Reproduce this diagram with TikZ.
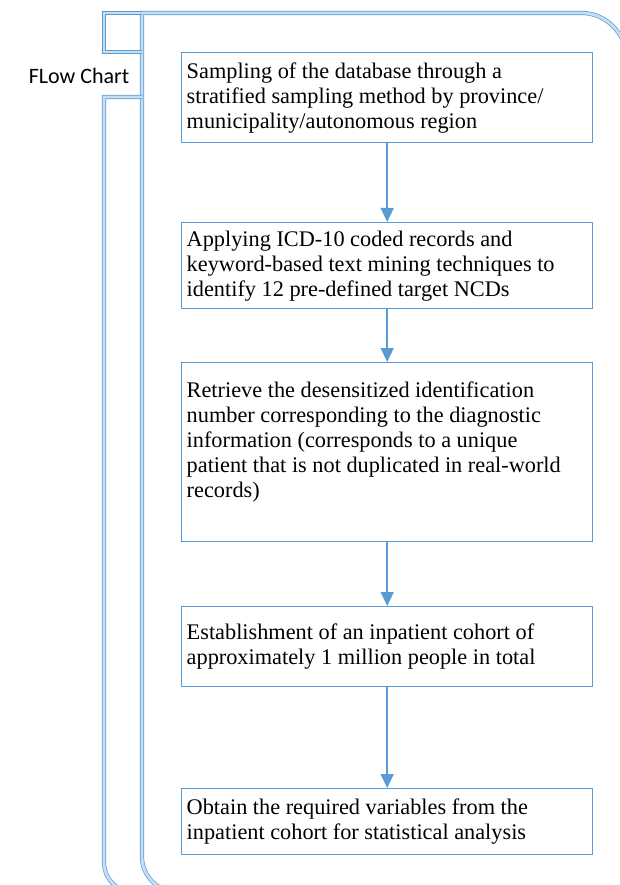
\documentclass[tikz,border=0pt]{standalone}
\usepackage{fontspec}
\setmainfont{Liberation Serif}
\newfontfamily\labelfont{Carlito}
\usepackage{xcolor}
\usetikzlibrary{positioning,arrows.meta}
\definecolor{edgeblue}{RGB}{91,155,213}
\definecolor{paleblue}{RGB}{197,222,244}

\tikzset{
  stepbox/.style={draw=edgeblue,line width=1.4pt,fill=white,anchor=north west,
    text width=401pt,inner xsep=5pt,align=flush left,
    font=\fontsize{22.3}{25}\selectfont},
  flow/.style={draw=edgeblue,line width=1.6pt,-{Triangle[width=13pt,length=14pt]}},
  band/.style={draw=edgeblue,line width=0.7pt,double=paleblue,double distance=2.8pt}
}

\begin{document}
\begin{tikzpicture}[x=1pt,y=-1pt]
        \useasboundingbox (0,0) rectangle (619,885);
        % bracket bands
        \draw[band] (177,892) .. controls (158,892) and (142,876) .. (142,857) -- (142,13)
          -- (582,13) .. controls (606,13) and (627,34) .. (627,60) -- (627,120);
        \draw[band] (142,13) -- (104,13) -- (104,52) -- (142,52);
        \draw[band] (142,97) -- (104,97) -- (104,862) .. controls (104,879) and (117,892) .. (134,892);
        \node[font=\labelfont\fontsize{22}{24}\selectfont] (title) at (79,76) {FLow Chart};
        % steps
        \node[stepbox,minimum height=90pt] (s1) at (181,52) {Sampling of the database through a\\
          stratified sampling method by province/\\ municipality/autonomous region};
        \node[stepbox,minimum height=86pt] (s2) at (181,222) {Applying ICD-10 coded records and\\
          keyword-based text mining techniques to\\ identify 12 pre-defined target NCDs};
        \node[stepbox,minimum height=179pt] (s3) at (181,362) {Retrieve the desensitized identification\\
          number corresponding to the diagnostic\\ information (corresponds to a unique\\
          patient that is not duplicated in real-world\\ records)\\ \mbox{}};
        \node[stepbox,minimum height=80pt] (s4) at (181,606) {Establishment of an inpatient cohort of\\
          approximately 1 million people in total};
        \node[stepbox,minimum height=66pt] (s5) at (181,788) {Obtain the required variables from the\\
          inpatient cohort for statistical analysis};
        \draw[flow] (s1) -- (s2); \draw[flow] (s2) -- (s3);
        \draw[flow] (s3) -- (s4); \draw[flow] (s4) -- (s5);
      \end{tikzpicture}
\end{document}
